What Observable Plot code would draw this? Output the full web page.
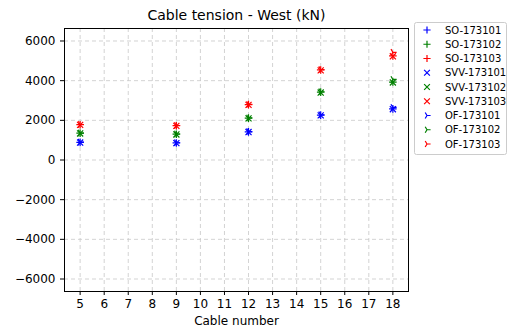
<!DOCTYPE html>
<html>
<head>
<meta charset="utf-8">
<script src="https://cdn.jsdelivr.net/npm/d3@7"></script>
<script src="https://cdn.jsdelivr.net/npm/@observablehq/plot@0.6"></script>
<style>
  html, body { margin: 0; padding: 0; background: #fff; }
  #chart { width: 508px; height: 328px; }
  svg text { font-family: "DejaVu Sans", sans-serif; }
</style>
</head>
<body>
<div id="chart"></div>
<script>
// Cable tension per cable, three sensors, three estimation methods
const cables = [5, 9, 12, 15, 18];
const sensors = ["173101", "173102", "173103"];
const methods = ["SO", "SVV", "OF"];
const sensorColors = ["#0000ff", "#008000", "#ff0000"];

// rows: sensor 173101, 173102, 173103 ; columns follow `cables`
const soValues = [
  [890, 860, 1420, 2260, 2580],
  [1350, 1300, 2110, 3420, 3930],
  [1780, 1730, 2790, 4540, 5250]
];
const svvValues = [
  [880, 850, 1410, 2250, 2560],
  [1340, 1290, 2100, 3400, 3910],
  [1770, 1720, 2780, 4520, 5230]
];
const ofValues = [
  [900, 870, 1430, 2280, 2650],
  [1360, 1310, 2120, 3440, 4060],
  [1790, 1740, 2800, 4560, 5430]
];

const xTicks = [5, 6, 7, 8, 9, 10, 11, 12, 13, 14, 15, 16, 17, 18];
const yTicks = [-6000, -4000, -2000, 0, 2000, 4000, 6000];

// stroke-only marker shapes
const symPlus = {
  draw(ctx, size) {
    const r = Math.sqrt(size / Math.PI);
    ctx.moveTo(-r, 0); ctx.lineTo(r, 0);
    ctx.moveTo(0, -r); ctx.lineTo(0, r);
  }
};
const symTimes = {
  draw(ctx, size) {
    const r = Math.sqrt(size / Math.PI) * 0.8;
    ctx.moveTo(-r, -r); ctx.lineTo(r, r);
    ctx.moveTo(-r, r); ctx.lineTo(r, -r);
  }
};
const symTriRight = {
  draw(ctx, size) {
    const r = Math.sqrt(size / Math.PI);
    ctx.moveTo(0, 0); ctx.lineTo(r, 0);
    ctx.moveTo(0, 0); ctx.lineTo(-0.5 * r, -0.85 * r);
    ctx.moveTo(0, 0); ctx.lineTo(-0.5 * r, 0.85 * r);
  }
};
const methodSymbols = { SO: symPlus, SVV: symTimes, OF: symTriRight };
const methodValues = { SO: soValues, SVV: svvValues, OF: ofValues };

const rows = [];
for (const m of methods) {
  sensors.forEach((s, si) => {
    cables.forEach((c, ci) => {
      rows.push({ method: m, sensor: s, cable: c, tension: methodValues[m][si][ci], color: sensorColors[si] });
    });
  });
}

const fmt = d => d3.format("d")(d);

const plot = Plot.plot({
  width: 508,
  height: 328,
  marginLeft: 64,
  marginRight: 100,
  marginTop: 28,
  marginBottom: 37,
  style: { fontFamily: "DejaVu Sans, sans-serif", fontSize: "12px", background: "#fff", color: "#000" },
  x: { domain: [4.35, 18.65], ticks: xTicks, label: null },
  y: { domain: [-6630, 6630], ticks: yTicks, label: null },
  color: { type: "identity" },
  marks: [
    Plot.gridX(xTicks, { stroke: "#c8c8c8", strokeOpacity: 1, strokeDasharray: "4,3", strokeWidth: 0.8 }),
    Plot.gridY(yTicks, { stroke: "#c8c8c8", strokeOpacity: 1, strokeDasharray: "4,3", strokeWidth: 0.8 }),
    Plot.axisX(xTicks, { tickSize: 4, tickPadding: 4, fontSize: 12, label: null, tickFormat: fmt }),
    Plot.axisY(yTicks, { tickSize: 4, tickPadding: 5, fontSize: 12, label: null, tickFormat: fmt }),
    ...methods.map(m => Plot.dot(rows.filter(d => d.method === m), {
      x: "cable", y: "tension", stroke: "color", fill: "none",
      symbol: methodSymbols[m], r: 3.8, strokeWidth: 1.2
    })),
    Plot.frame({ stroke: "#000", strokeWidth: 1 }),
    Plot.text(["Cable tension - West (kN)"], { frameAnchor: "top", lineAnchor: "middle", dy: -13, fontSize: 14, fill: "#000" }),
    Plot.text(["Cable number"], { frameAnchor: "bottom", lineAnchor: "middle", dy: 30, fontSize: 12, fill: "#000" })
  ]
});

document.getElementById("chart").appendChild(plot);

// legend to the right of the axes
const svg = d3.select(plot);
const lg = svg.append("g").attr("class", "legend").attr("text-anchor", "start");
lg.append("rect")
  .attr("x", 414.5).attr("y", 22.5).attr("width", 92).attr("height", 132)
  .attr("rx", 2).attr("fill", "#fff").attr("stroke", "#cccccc").attr("stroke-width", 1);
let k = 0;
for (const m of methods) {
  sensors.forEach((s, si) => {
    const y = 30 + k * 14.25;
    lg.append("path")
      .attr("transform", `translate(427,${y})`)
      .attr("d", d3.symbol(methodSymbols[m], 3.6 * 3.6 * Math.PI)())
      .attr("fill", "none").attr("stroke", sensorColors[si]).attr("stroke-width", 1.2);
    lg.append("text")
      .attr("x", 445).attr("y", y).attr("dy", "0.35em")
      .attr("text-anchor", "start")
      .attr("font-size", 10).attr("fill", "#000")
      .text(`${m}-${s}`);
    k++;
  });
}
</script>
</body>
</html>
